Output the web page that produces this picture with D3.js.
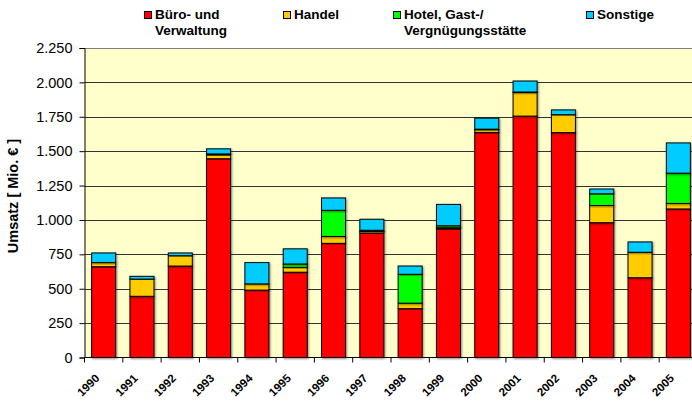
<!DOCTYPE html>
<html>
<head>
<meta charset="utf-8">
<script src="https://cdn.jsdelivr.net/npm/d3@7"></script>
<style>
  html, body { margin: 0; padding: 0; background: #fff; }
  svg { display: block; font-family: "Liberation Sans", Arial, sans-serif; }
</style>
</head>
<body>
<svg id="chart" width="692" height="403"></svg>
<script>
// Umsatz nach Nutzungsart, Mio. €
const years = ["1990","1991","1992","1993","1994","1995","1996","1997","1998","1999","2000","2001","2002","2003","2004","2005"];
const buero    = [660, 445, 665, 1445, 490, 620, 830, 905, 355, 935, 1635, 1755, 1635, 980, 580, 1080];
const handel   = [30, 125, 75, 28, 45, 35, 50, 12, 40, 8, 20, 170, 130, 125, 185, 40];
const hotel    = [0, 0, 0, 7, 0, 25, 190, 8, 210, 15, 5, 5, 0, 85, 0, 220];
const sonstige = [70, 20, 20, 37, 155, 110, 90, 80, 60, 155, 80, 80, 35, 35, 75, 220];
const yTicks = [0, 250, 500, 750, 1000, 1250, 1500, 1750, 2000, 2250];

const seriesKeys = ["buero", "handel", "hotel", "sonstige"];
const seriesNames = [["Büro- und", "Verwaltung"], ["Handel"], ["Hotel, Gast-/", "Vergnügungsstätte"], ["Sonstige"]];
const colors = ["#FF0000", "#FFCC00", "#00FF00", "#00CCFF"];
const legendX = [144, 283, 393, 586];

const rows = years.map((yr, i) => ({
  year: yr, buero: buero[i], handel: handel[i], hotel: hotel[i], sonstige: sonstige[i]
}));

const svg = d3.select("#chart");
const plotLeft = 84.5, plotRight = 697.5, plotTop = 48, plotBottom = 357.5;

const x = d3.scaleBand().domain(years).range([plotLeft, plotRight]).paddingInner(0.373).paddingOuter(0.1865);
const y = d3.scaleLinear().domain([0, 2250]).range([plotBottom, plotTop]);

// soft shadow behind the bars
const defs = svg.append("defs");
const f = defs.append("filter").attr("id", "shadow").attr("x", "-20%").attr("y", "-20%").attr("width", "140%").attr("height", "140%");
f.append("feDropShadow").attr("dx", 1).attr("dy", 1).attr("stdDeviation", 0.8)
  .attr("flood-color", "#000").attr("flood-opacity", 0.45);

// plot background
svg.append("rect").attr("x", plotLeft).attr("y", plotTop).attr("width", plotRight - plotLeft).attr("height", plotBottom - plotTop)
  .attr("fill", "#FFFFCC");

// horizontal grid lines
svg.append("g").selectAll("line").data(yTicks.filter(d => d > 0)).join("line")
  .attr("x1", plotLeft).attr("x2", plotRight)
  .attr("y1", d => Math.round(y(d)) + 0.5).attr("y2", d => Math.round(y(d)) + 0.5)
  .attr("stroke", d => d === 2250 ? "#808080" : "#333").attr("stroke-width", 1);

// stacked bars
const stacked = d3.stack().keys(seriesKeys)(rows);
const barsG = svg.append("g");
stacked.forEach((layer, si) => {
  barsG.append("g").selectAll("rect")
    .data(layer.filter(d => d[1] - d[0] > 0))
    .join("rect")
    .attr("x", d => x(d.data.year))
    .attr("y", d => y(d[1]))
    .attr("width", x.bandwidth())
    .attr("height", d => y(d[0]) - y(d[1]))
    .attr("fill", colors[si])
    .attr("stroke", "#000")
    .attr("stroke-width", 1)
    .attr("filter", "url(#shadow)");
});

// y axis
const yAxis = d3.axisLeft(y).tickValues(yTicks).tickSize(5).tickPadding(7)
  .tickFormat(d => d3.format(",")(d).replace(/,/g, "."));
const yg = svg.append("g").attr("transform", `translate(${plotLeft},0)`).call(yAxis);
yg.select(".domain").attr("stroke", "#000");
yg.selectAll(".tick line").attr("stroke", "#000");
yg.selectAll(".tick text").attr("font-size", 14.5).attr("fill", "#000")
  .attr("font-family", "Liberation Sans, Arial, sans-serif");

// x axis line with tick marks at category boundaries
svg.append("line").attr("x1", plotLeft).attr("x2", plotRight).attr("y1", plotBottom).attr("y2", plotBottom)
  .attr("stroke", "#000");
const step = x.step();
svg.append("g").selectAll("line").data(d3.range(years.length + 1)).join("line")
  .attr("x1", i => plotLeft + i * step).attr("x2", i => plotLeft + i * step)
  .attr("y1", plotBottom).attr("y2", plotBottom + 5).attr("stroke", "#000");

svg.append("g").selectAll("text").data(years).join("text")
  .attr("transform", d => `translate(${x(d) + x.bandwidth() / 2 - 3.5},379) rotate(-45)`)
  .attr("text-anchor", "end")
  .attr("font-size", 11.5).attr("font-weight", "bold").attr("fill", "#000")
  .text(d => d);

// y axis title
svg.append("text")
  .attr("transform", "translate(17.5,196) rotate(-90)")
  .attr("text-anchor", "middle")
  .attr("font-size", 14.5).attr("font-weight", "bold").attr("fill", "#000")
  .text("Umsatz [ Mio. € ]");

// legend
const lg = svg.append("g");
seriesNames.forEach((lines, i) => {
  lg.append("rect").attr("x", legendX[i] + 0.5).attr("y", 11.5).attr("width", 7).attr("height", 7)
    .attr("fill", colors[i]).attr("stroke", "#000");
  const t = lg.append("text").attr("x", legendX[i] + 11).attr("y", 18.5)
    .attr("font-size", 13.5).attr("font-weight", "bold").attr("fill", "#000");
  lines.forEach((l, j) => {
    t.append("tspan").attr("x", legendX[i] + 11).attr("dy", j === 0 ? 0 : 16).text(l);
  });
});
</script>
</body>
</html>
